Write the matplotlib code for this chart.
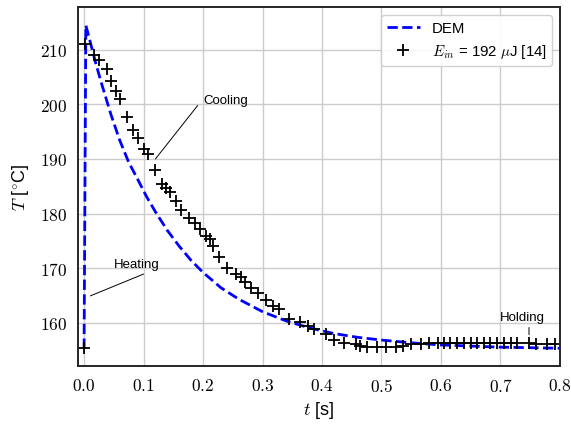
import matplotlib
matplotlib.use("Agg")
import matplotlib.pyplot as plt
from matplotlib.ticker import FuncFormatter

plt.rcParams['mathtext.fontset'] = 'cm'
plt.rcParams['font.family'] = ['Liberation Sans', 'DejaVu Sans']

# DEM simulation: temperature over time
t_dem = [0.000, 0.003, 0.010, 0.020, 0.030, 0.045, 0.060, 0.075, 0.090, 0.105,
         0.120, 0.140, 0.160, 0.180, 0.200, 0.230, 0.260, 0.300, 0.340, 0.380,
         0.420, 0.460, 0.500, 0.550, 0.600, 0.700, 0.800]
T_dem = [155.2, 214.5, 211.6, 207.4, 203.6, 198.2, 193.4, 189.4, 186.3, 183.1,
         180.3, 176.9, 174.0, 171.4, 169.2, 166.4, 164.3, 162.0, 160.3, 159.0,
         158.0, 157.3, 156.8, 156.3, 155.9, 155.5, 155.3]

# measured temperature, E_in = 192 uJ [14]
t_exp = [0.000, 0.002, 0.017, 0.0245, 0.038, 0.045, 0.0535, 0.061, 0.073, 0.083,
         0.090, 0.101, 0.107, 0.1185, 0.131, 0.138, 0.145, 0.154, 0.163, 0.177,
         0.187, 0.195, 0.205, 0.211, 0.2175, 0.2275, 0.240, 0.2555, 0.264, 0.271,
         0.281, 0.292, 0.306, 0.317, 0.328, 0.345, 0.363, 0.376, 0.387, 0.4065,
         0.420, 0.437, 0.457, 0.464, 0.476, 0.493, 0.507, 0.524, 0.536, 0.549,
         0.566, 0.580, 0.595, 0.605, 0.616, 0.627, 0.638, 0.650, 0.661, 0.672,
         0.683, 0.694, 0.706, 0.717, 0.728, 0.748, 0.759, 0.778, 0.792]
T_exp = [155.3, 211.1, 209.1, 208.2, 206.4, 204.2, 202.4, 200.9, 197.7, 195.3,
         193.8, 191.8, 190.9, 187.9, 185.4, 184.7, 184.0, 182.3, 180.6, 179.1,
         178.2, 177.1, 175.9, 175.3, 174.0, 172.0, 170.0, 168.9, 168.3, 167.5,
         166.3, 165.5, 164.2, 163.0, 162.5, 160.6, 160.1, 159.4, 158.9, 157.9,
         156.8, 156.3, 156.1, 155.8, 155.6, 155.5, 155.5, 155.6, 155.8, 156.0,
         156.1, 156.2, 156.2, 156.2, 156.2, 156.2, 156.2, 156.2, 156.2, 156.2,
         156.2, 156.2, 156.2, 156.2, 156.2, 156.2, 156.1, 156.1, 156.1]

fig = plt.figure(figsize=(5.71, 4.27), dpi=100)
ax = fig.add_axes([0.1366, 0.1412, 0.844, 0.8394])

ax.plot(t_dem, T_dem, '--', color='blue', lw=2, label='DEM')
ax.plot(t_exp, T_exp, '+', color='black', ms=8, mew=1.3, ls='none',
        label=r'$E_{in}$ = 192 $\mu$J [14]')

ax.set_xlim(-0.0102, 0.8)
ax.set_ylim(152.1, 217.8)
ax.set_xticks([0.0, 0.1, 0.2, 0.3, 0.4, 0.5, 0.6, 0.7, 0.8])
ax.set_yticks([160, 170, 180, 190, 200, 210])
ax.xaxis.set_major_formatter(FuncFormatter(lambda v, p: '$%.1f$' % v))
ax.yaxis.set_major_formatter(FuncFormatter(lambda v, p: '$%d$' % round(v)))
ax.tick_params(length=0, labelsize=12.5, pad=8)

ax.grid(True, color='#cccccc', lw=1)
ax.set_axisbelow(True)
for s in ax.spines.values():
    s.set_color('#262626')
    s.set_linewidth(1.4)

ax.set_xlabel(r'$t$ [s]', fontsize=13)
ax.set_ylabel(r'$T$ [$^{\circ}$C]', fontsize=13, labelpad=6)

# process phase labels
ax.annotate('', xy=(0.120, 190.0), xytext=(0.191, 199.8),
            arrowprops=dict(arrowstyle='-', lw=0.7, color='black',
                            shrinkA=0, shrinkB=0))
ax.text(0.201, 200.8, 'Cooling', fontsize=9.5, va='center', ha='left')

ax.annotate('', xy=(0.0106, 164.9), xytext=(0.100, 168.9),
            arrowprops=dict(arrowstyle='-', lw=0.7, color='black',
                            shrinkA=0, shrinkB=0))
ax.text(0.089, 170.7, 'Heating', fontsize=9.5, va='center', ha='center')

ax.annotate('', xy=(0.748, 157.8), xytext=(0.748, 159.1),
            arrowprops=dict(arrowstyle='-', lw=0.7, color='black',
                            shrinkA=0, shrinkB=0))
ax.text(0.737, 161.0, 'Holding', fontsize=9.5, va='center', ha='center')

leg = ax.legend(loc='upper right', fontsize=10.8, framealpha=0.9,
                edgecolor='#cccccc', handlelength=2.2)

fig.savefig('out.png', dpi=100)
